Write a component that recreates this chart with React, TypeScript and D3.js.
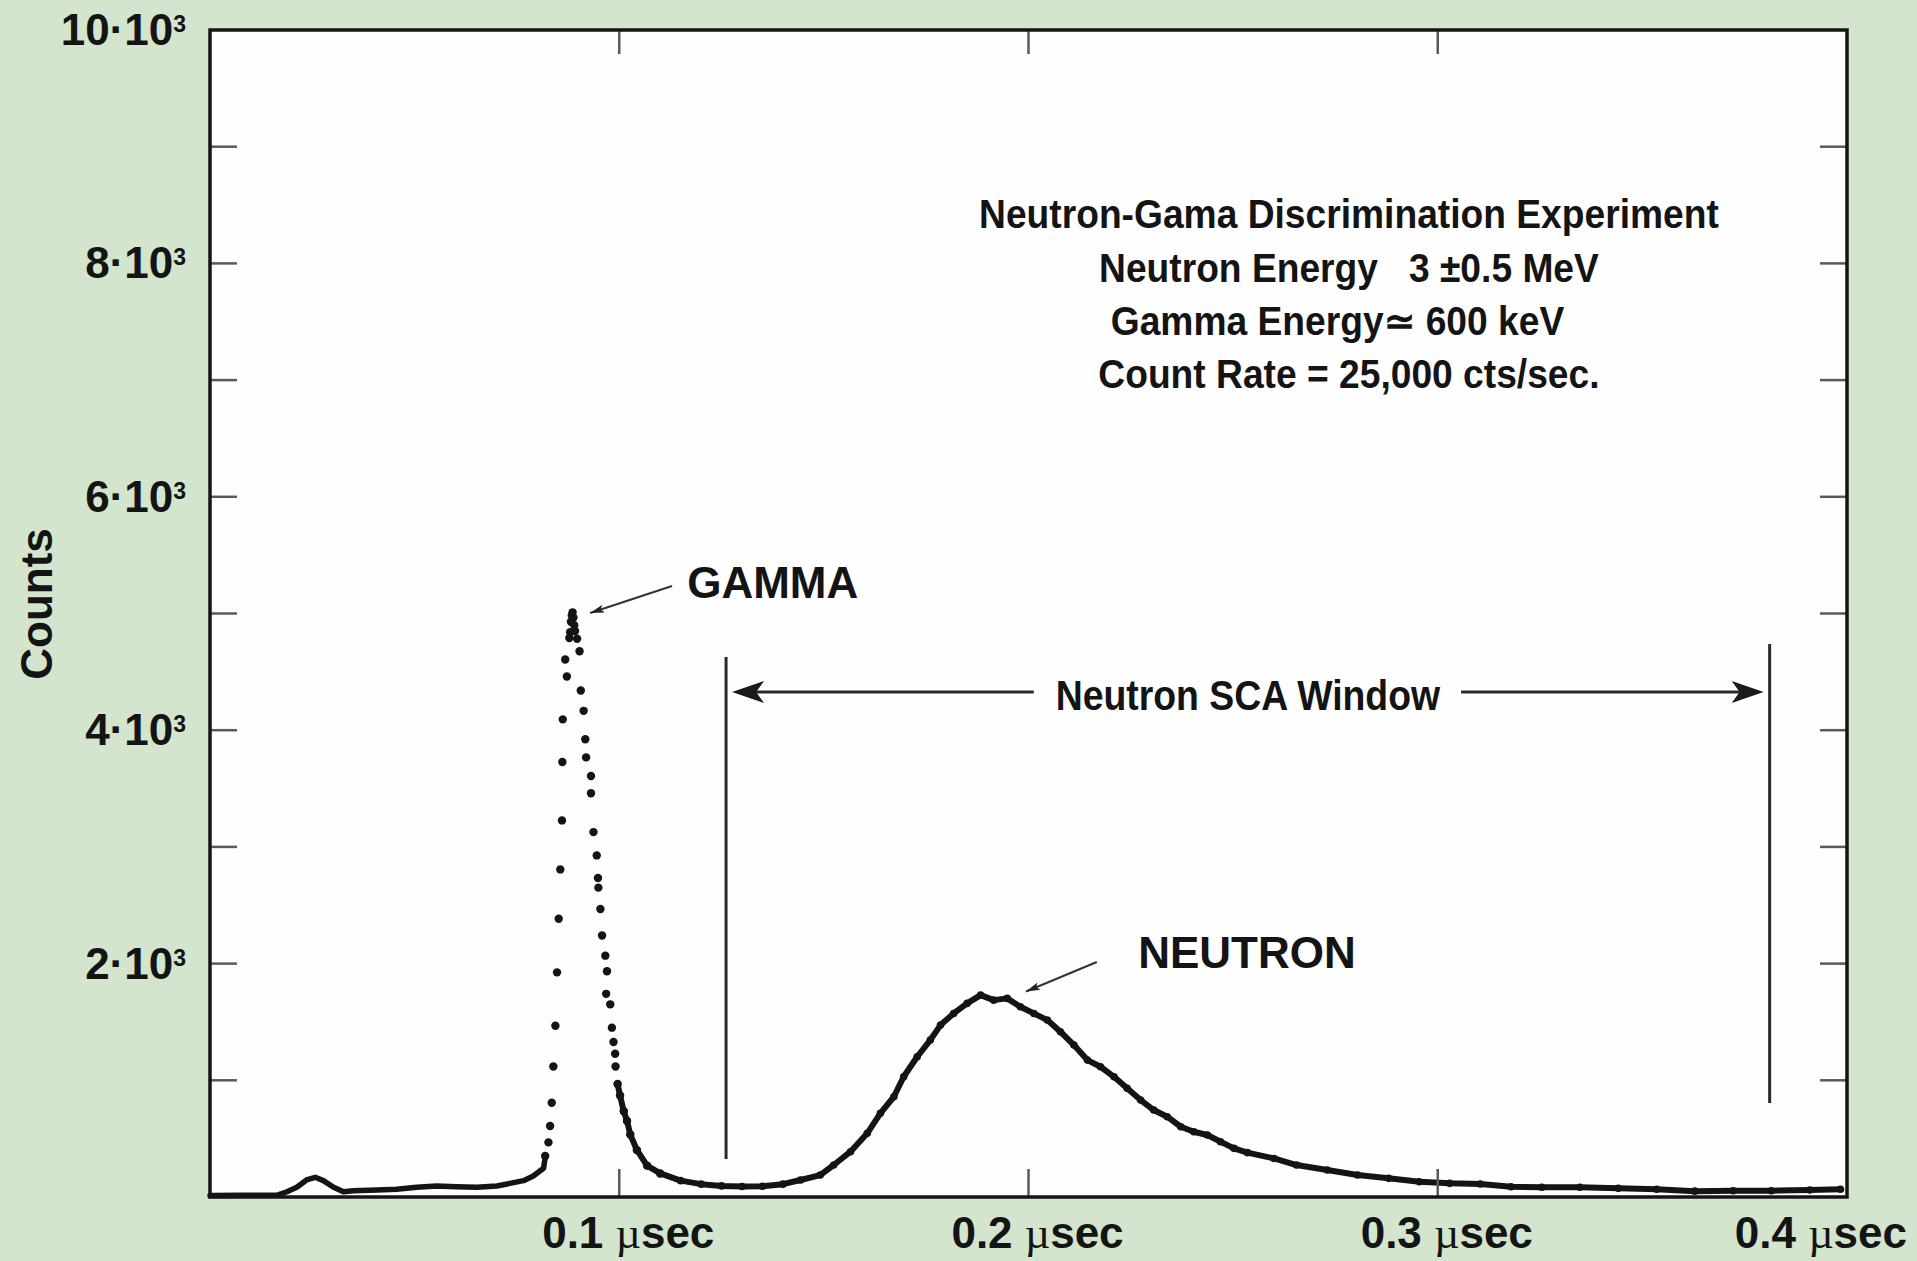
import React, { useEffect } from 'react';
import * as d3 from 'd3';

// Time-of-flight spectrum: [time (µs), counts]
// Low channels up to the rising edge of the gamma peak (dense trace)
const lowChannels: [number, number][] = [
  [0.0, 12], [0.008, 14], [0.0163, 14], [0.0188, 45], [0.0212, 83], [0.0236, 146],
  [0.0257, 169], [0.0277, 140], [0.0302, 83], [0.0326, 45], [0.035, 54], [0.0408, 60],
  [0.0456, 66], [0.0505, 83], [0.0554, 94], [0.0603, 88], [0.0652, 83], [0.0701, 94],
  [0.0733, 117], [0.0766, 140], [0.079, 180], [0.0815, 246], [0.0819, 340],
];

// Gamma peak channels (sparse, drawn as individual points)
const gammaPeak: [number, number][] = [
  [0.0819, 351], [0.0827, 468], [0.0831, 608], [0.0835, 808], [0.0839, 1118],
  [0.0844, 1468], [0.0848, 1925], [0.0852, 2384], [0.0856, 2807], [0.086, 3227],
  [0.0861, 3727], [0.0862, 4093], [0.0868, 4606], [0.0872, 4460], [0.0878, 4790],
  [0.088, 4840], [0.0882, 4930], [0.0884, 4983], [0.0886, 5010], [0.0888, 4966],
  [0.089, 4900], [0.0892, 4850], [0.0897, 4783], [0.0903, 4676], [0.0906, 4340],
  [0.0913, 4166], [0.0917, 3923], [0.0919, 3767], [0.0931, 3607], [0.0931, 3460],
  [0.0937, 3127], [0.0945, 2927], [0.0948, 2734], [0.0949, 2651], [0.0954, 2468],
  [0.0958, 2241], [0.0966, 2068], [0.097, 1934], [0.0968, 1741], [0.0978, 1651],
  [0.0982, 1451], [0.0986, 1328], [0.099, 1228], [0.0991, 1118], [0.0996, 968],
  [0.1002, 869], [0.1011, 735], [0.1019, 652], [0.1027, 535], [0.1043, 403],
  [0.1068, 269], [0.11, 202],
];

// Gamma tail, neutron peak and high channels (dense trace)
const neutronTail: [number, number][] = [
  [0.0996, 968], [0.1002, 869], [0.1011, 735], [0.1019, 652], [0.1027, 535],
  [0.1043, 403], [0.1068, 269], [0.11, 202], [0.115, 140], [0.12, 110], [0.125, 95],
  [0.13, 90], [0.135, 92], [0.14, 110], [0.1443, 146], [0.1491, 188], [0.1524, 274],
  [0.1565, 388], [0.1606, 546], [0.1638, 717], [0.1671, 859], [0.1695, 1030],
  [0.1728, 1202], [0.176, 1345], [0.1785, 1473], [0.1817, 1573], [0.185, 1659],
  [0.1883, 1730], [0.1915, 1687], [0.1948, 1702], [0.198, 1630], [0.2013, 1573],
  [0.2046, 1516], [0.2078, 1416], [0.2111, 1302], [0.2144, 1173], [0.2176, 1116],
  [0.2209, 1030], [0.2241, 931], [0.2274, 831], [0.2306, 745], [0.2339, 688],
  [0.2372, 602], [0.2404, 559], [0.2437, 531], [0.2469, 474], [0.2502, 417],
  [0.2535, 380], [0.26, 330], [0.2655, 274], [0.273, 231], [0.2804, 188], [0.288, 160],
  [0.2955, 131], [0.3029, 117], [0.3104, 111], [0.3179, 88], [0.3254, 83], [0.3347, 83],
  [0.3441, 74], [0.3535, 66], [0.3628, 50], [0.3722, 54], [0.3815, 54], [0.3909, 60],
  [0.3984, 66],
];

// Axes
const timeTicks = [0.1, 0.2, 0.3, 0.4];
const timeTickLabels = ['0.1', '0.2', '0.3', '0.4'];
const countTicks = [1000, 2000, 3000, 4000, 5000, 6000, 7000, 8000, 9000];
const countLabelTicks = [2000, 4000, 6000, 8000, 10000];
const countLabelMantissa = ['2', '4', '6', '8', '10'];

// Single-channel analyser window limits (µs)
const scaWindow = [0.1261, 0.3811];

// Experiment description
const infoLines = [
  'Neutron-Gama Discrimination Experiment',
  'Neutron Energy   3 \u00B10.5 MeV',
  'Gamma Energy\u2243 600 keV',
  'Count Rate = 25,000 cts/sec.',
];

const W = 1917;
const H = 1261;
const PLOT = { left: 210, right: 1847, top: 30, bottom: 1197 };
const SANS = '"Liberation Sans", Arial, Helvetica, sans-serif';
const SERIF = '"Liberation Serif", "DejaVu Serif", serif';
const INK = '#141414';

function arrowHead(tx: number, ty: number, fx: number, fy: number, len: number, half: number, notch: number) {
  const dx = tx - fx;
  const dy = ty - fy;
  const d = Math.hypot(dx, dy) || 1;
  const ux = dx / d;
  const uy = dy / d;
  const px = -uy;
  const py = ux;
  const bx = tx - ux * len;
  const by = ty - uy * len;
  const p = d3.path();
  p.moveTo(tx, ty);
  p.lineTo(bx + px * half, by + py * half);
  p.lineTo(tx - ux * (len - notch), ty - uy * (len - notch));
  p.lineTo(bx - px * half, by - py * half);
  p.closePath();
  return p.toString();
}

export default function App() {
  useEffect(() => {
    document.body.style.margin = '0';
  }, []);

  const x = d3.scaleLinear().domain([0, 0.4]).range([PLOT.left, PLOT.right]);
  const y = d3.scaleLinear().domain([0, 10000]).range([PLOT.bottom, PLOT.top]);
  const trace = d3
    .line<[number, number]>()
    .x((d) => x(d[0]))
    .y((d) => y(d[1]));

  const plotW = PLOT.right - PLOT.left;
  const plotH = PLOT.bottom - PLOT.top;

  // annotation anchors in data units
  const arrowLevel = 4327;
  const leftShaftEnd = 0.2013;
  const rightShaftStart = 0.3057;
  const gammaTip: [number, number] = [0.0929, 5004];
  const gammaTail: [number, number] = [0.1129, 5236];
  const neutronTip: [number, number] = [0.1994, 1761];
  const neutronTailPt: [number, number] = [0.2167, 2014];

  const ax0 = x(scaWindow[0]) + 6;
  const ax1 = x(scaWindow[1]) - 6;
  const ay = y(arrowLevel);

  return (
    <svg
      width={W}
      height={H}
      viewBox={`0 0 ${W} ${H}`}
      style={{ position: 'absolute', left: 0, top: 0, display: 'block' }}
      fontFamily={SANS}
    >
      <rect x={0} y={0} width={W} height={H} fill="#d3e5cc" />
      <rect x={PLOT.left} y={PLOT.top} width={plotW} height={plotH} fill="#fefefe" />

      {/* dense parts of the spectrum */}
      <path d={trace(lowChannels) ?? ''} fill="none" stroke={INK} strokeWidth={5.5} strokeLinejoin="round" strokeLinecap="round" />
      <path d={trace(neutronTail) ?? ''} fill="none" stroke={INK} strokeWidth={6} strokeLinejoin="round" strokeLinecap="round" />
      {neutronTail.map((d, i) => (
        <circle key={`t${i}`} cx={x(d[0])} cy={y(d[1])} r={3.8} fill={INK} />
      ))}
      {/* gamma peak points */}
      {gammaPeak.map((d, i) => (
        <circle key={`g${i}`} cx={x(d[0])} cy={y(d[1])} r={4.2} fill={INK} />
      ))}

      {/* ticks */}
      <g stroke="#5a5a5a" strokeWidth={2.5}>
        {countTicks.map((v) => (
          <g key={`yt${v}`}>
            <line x1={PLOT.left} x2={PLOT.left + 27} y1={y(v)} y2={y(v)} />
            <line x1={PLOT.right} x2={PLOT.right - 27} y1={y(v)} y2={y(v)} />
          </g>
        ))}
        {timeTicks.filter((v) => v < 0.4).map((v) => (
          <g key={`xt${v}`}>
            <line x1={x(v)} x2={x(v)} y1={PLOT.top} y2={PLOT.top + 24} />
            <line x1={x(v)} x2={x(v)} y1={PLOT.bottom} y2={PLOT.bottom - 28} />
          </g>
        ))}
      </g>

      {/* frame */}
      <rect x={PLOT.left} y={PLOT.top} width={plotW} height={plotH} fill="none" stroke={INK} strokeWidth={3.5} />

      {/* y tick labels */}
      {countLabelTicks.map((v, i) => (
        <text key={`yl${v}`} x={186} y={y(v) + 15} textAnchor="end" fontSize={44} fontWeight="bold" fill={INK}>
          {countLabelMantissa[i]}
          {'\u00B710'}
          <tspan dy={-13} fontSize={23}>3</tspan>
        </text>
      ))}

      {/* x tick labels */}
      {timeTicks.map((v, i) => {
        const last = i === timeTicks.length - 1;
        return (
          <text
            key={`xl${v}`}
            x={last ? 1907 : x(v) + 9}
            y={1248}
            textAnchor={last ? 'end' : 'middle'}
            fontSize={44}
            fill={INK}
            style={{ whiteSpace: 'pre' }}
          >
            <tspan fontWeight="bold">{timeTickLabels[i] + ' '}</tspan>
            <tspan fontFamily={SERIF} fontWeight="normal">{'\u00B5'}</tspan>
            <tspan fontWeight="bold">sec</tspan>
          </text>
        );
      })}

      {/* y axis title */}
      <text transform="translate(52,604) rotate(-90)" textAnchor="middle" fontSize={44} fontWeight="bold" fill={INK}>
        Counts
      </text>

      {/* experiment description */}
      {infoLines.map((s, i) => {
        const baselines = [8303, 7841, 7387, 6932];
        const cx = i === 2 ? x(0.2755) : x(0.2783);
        return (
          <text
            key={`info${i}`}
            transform={`translate(${cx},${y(baselines[i])}) scale(0.93,1)`}
            textAnchor="middle"
            fontSize={40}
            fontWeight="bold"
            fill={INK}
            style={{ whiteSpace: 'pre' }}
          >
            {s}
          </text>
        );
      })}

      {/* SCA window */}
      <g stroke="#2a2a2a" strokeWidth={3}>
        <line x1={x(scaWindow[0])} x2={x(scaWindow[0])} y1={y(4627)} y2={y(326)} />
        <line x1={x(scaWindow[1])} x2={x(scaWindow[1])} y1={y(4739)} y2={y(805)} />
        <line x1={ax0 + 20} x2={x(leftShaftEnd)} y1={ay} y2={ay} />
        <line x1={x(rightShaftStart)} x2={ax1 - 20} y1={ay} y2={ay} />
      </g>
      <path d={arrowHead(ax0, ay, ax0 + 50, ay, 32, 11, 8)} fill="#1a1a1a" />
      <path d={arrowHead(ax1, ay, ax1 - 50, ay, 32, 11, 8)} fill="#1a1a1a" />
      <text
        transform={`translate(${x(0.2536)},${y(4173)}) scale(0.89,1)`}
        textAnchor="middle"
        fontSize={42}
        fontWeight="bold"
        fill={INK}
      >
        Neutron SCA Window
      </text>

      {/* peak labels */}
      <line x1={x(gammaTail[0])} y1={y(gammaTail[1])} x2={x(gammaTip[0])} y2={y(gammaTip[1])} stroke="#333" strokeWidth={2} />
      <path d={arrowHead(x(gammaTip[0]), y(gammaTip[1]), x(gammaTail[0]), y(gammaTail[1]), 14, 4, 3)} fill="#222" />
      <text x={x(0.1166)} y={y(5133)} fontSize={44} fontWeight="bold" fill={INK}>
        GAMMA
      </text>

      <line x1={x(neutronTailPt[0])} y1={y(neutronTailPt[1])} x2={x(neutronTip[0])} y2={y(neutronTip[1])} stroke="#333" strokeWidth={2} />
      <path d={arrowHead(x(neutronTip[0]), y(neutronTip[1]), x(neutronTailPt[0]), y(neutronTailPt[1]), 14, 4, 3)} fill="#222" />
      <text x={x(0.2268)} y={y(1962)} fontSize={44} fontWeight="bold" fill={INK}>
        NEUTRON
      </text>
    </svg>
  );
}
